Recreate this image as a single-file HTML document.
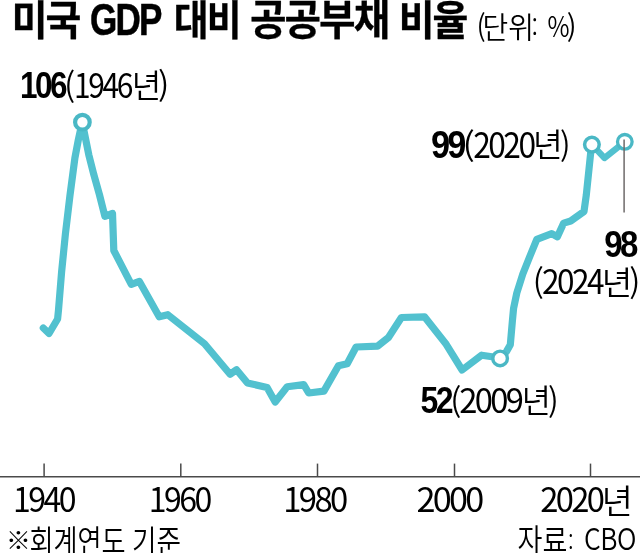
<!DOCTYPE html>
<html lang="ko">
<head>
<meta charset="utf-8">
<title>미국 GDP 대비 공공부채 비율</title>
<style>
html,body{margin:0;padding:0;background:#fff;}
body{width:640px;height:553px;overflow:hidden;}
svg{display:block;}
text{font-family:"Liberation Sans","Noto Sans CJK KR",sans-serif;font-size:100px;fill:#000;}
text.k{font-family:"Noto Sans CJK KR","Liberation Sans",sans-serif;}
text.s{stroke:#000;stroke-linejoin:round;vector-effect:non-scaling-stroke;}
</style>
</head>
<body>
<svg width="640" height="553" viewBox="0 0 640 553">
<rect width="640" height="553" fill="#fff"/>
<g stroke="#4a4a4a" stroke-width="1.5" fill="none">
<line x1="0" y1="476.75" x2="640" y2="476.75"/>
<line x1="44.1" y1="463.6" x2="44.1" y2="477"/>
<line x1="180.8" y1="463.6" x2="180.8" y2="477"/>
<line x1="317.5" y1="463.6" x2="317.5" y2="477"/>
<line x1="454.5" y1="463.6" x2="454.5" y2="477"/>
<line x1="590.5" y1="463.6" x2="590.5" y2="477"/>
</g>
<polyline fill="none" stroke="#52c1cf" stroke-width="7.2" stroke-linejoin="round" stroke-linecap="round" points="
43.3,328 49,333.5 57.6,319 58.5,310 61.6,272 65.4,234 69.9,196 74.9,158 78.3,140 81.8,124
83.6,129 88.8,154.8 93.8,174.6 99.4,194.5 104.9,216.3 112.5,213.5 113.8,250.5 131.3,284.4 139.4,281.4
159.2,316.8 167.8,314.7 204.5,343.8 230.1,374.2 236.5,369.7 247.5,383 267.1,387.4
275.2,402 287.2,386.7 303.7,384.6 308.7,393 323.9,391.1 338.4,365.7 347.2,363.8
356.1,347 377.6,346.1 388.3,337.7 401.4,317.5 424.5,316.8 446.2,344.3 462.1,370
481.7,355.2 492,356.7 500.1,358.4 506.4,351.6 510.3,344.8 512.3,322 513.6,308.2
516.8,293 522.8,274 530.4,255 536.8,239.3 551.7,233.6 557.4,236.8 563.7,223.1
570.7,221 584,211.5 586.3,195 591.5,145"/>
<polyline fill="none" stroke="#52c1cf" stroke-width="6.3" stroke-linejoin="round" stroke-linecap="round" points="591.9,144.6 604.5,158 624.8,141.8"/>
<g fill="#fff" stroke="#4ab8c5">
<circle cx="82.4" cy="122.2" r="7.3" stroke-width="4.2"/>
<circle cx="500.1" cy="358.4" r="7.3" stroke-width="3.4"/>
<circle cx="591.9" cy="144.6" r="7.3" stroke-width="3.5"/>
<circle cx="624.8" cy="141.8" r="7.3" stroke-width="3.3"/>
</g>
<line x1="624.1" y1="139.4" x2="624.1" y2="212.5" stroke="#6e6a6a" stroke-width="1.5"/>
<g><text class="s" transform="matrix(0.3894 0 0 0.4138 11.71 34.52)" font-weight="700" stroke-width="0.3" style="letter-spacing:-0.05em">미국</text> <text class="s" transform="matrix(0.3509 0 0 0.4503 89.94 34.52)" font-weight="700" stroke-width="0.5" style="letter-spacing:-0.05em">GDP</text> <text class="s" transform="matrix(0.3789 0 0 0.4138 173.78 34.52)" font-weight="700" stroke-width="0.3" style="letter-spacing:-0.05em">대비</text> <text class="s" transform="matrix(0.3976 0 0 0.4165 249.89 34.50)" font-weight="700" stroke-width="0.3" style="letter-spacing:-0.05em">공공부채</text> <text class="s" transform="matrix(0.3894 0 0 0.4138 398.64 34.52)" font-weight="700" stroke-width="0.3" style="letter-spacing:-0.05em">비율</text> <text class="k" transform="matrix(0.2766 0 0 0.2965 476.44 38.15)" font-weight="350">(</text><text class="k" transform="matrix(0.2793 0 0 0.2957 482.59 37.61)" font-weight="350">단위</text><text class="k" transform="matrix(0.2225 0 0 0.2554 531.87 37.45)" font-weight="350">:</text> <text class="k" transform="matrix(0.2412 0 0 0.2912 547.61 37.29)" font-weight="350">%</text><text class="k" transform="matrix(0.3014 0 0 0.2965 566.86 38.15)" font-weight="350">)</text></g>
<g><text transform="matrix(0.3146 0 0 0.3750 20.12 98.25)" font-weight="700" style="letter-spacing:-0.08em">106</text><text class="k" transform="matrix(0.3383 0 0 0.3315 63.96 98.77)" font-weight="350">(</text><text class="k" transform="matrix(0.2992 0 0 0.3454 74.05 98.03)" font-weight="400" style="letter-spacing:-0.08em">1946</text><text class="k" transform="matrix(0.3210 0 0 0.3354 131.66 98.43)" font-weight="350">년</text><text class="k" transform="matrix(0.3448 0 0 0.3293 157.95 98.25)" font-weight="350">)</text></g>
<g><text transform="matrix(0.3431 0 0 0.3857 430.95 158.00)" font-weight="700" style="letter-spacing:-0.08em">99</text><text class="k" transform="matrix(0.3830 0 0 0.3235 462.36 158.02)" font-weight="350">(</text><text class="k" transform="matrix(0.3173 0 0 0.3596 473.17 157.78)" font-weight="400" style="letter-spacing:-0.08em">2020</text><text class="k" transform="matrix(0.3231 0 0 0.3320 532.99 157.44)" font-weight="350">년</text><text class="k" transform="matrix(0.3205 0 0 0.3235 560.08 158.02)" font-weight="350">)</text></g>
<g><text transform="matrix(0.3304 0 0 0.3750 604.21 257.00)" font-weight="700" style="letter-spacing:-0.08em">98</text></g>
<g><text class="k" transform="matrix(0.3448 0 0 0.3268 532.60 295.01)" font-weight="350">(</text><text class="k" transform="matrix(0.3157 0 0 0.3345 541.94 294.28)" font-weight="400" style="letter-spacing:-0.08em">2024</text><text class="k" transform="matrix(0.3322 0 0 0.3320 601.70 294.93)" font-weight="350">년</text><text class="k" transform="matrix(0.3388 0 0 0.3285 629.22 294.92)" font-weight="350">)</text></g>
<g><text transform="matrix(0.3205 0 0 0.3607 420.46 413.25)" font-weight="700" style="letter-spacing:-0.08em">52</text><text class="k" transform="matrix(0.3449 0 0 0.3260 449.88 413.97)" font-weight="350">(</text><text class="k" transform="matrix(0.3274 0 0 0.3345 459.16 412.80)" font-weight="400" style="letter-spacing:-0.08em">2009</text><text class="k" transform="matrix(0.3164 0 0 0.3314 521.66 413.44)" font-weight="350">년</text><text class="k" transform="matrix(0.3262 0 0 0.3253 548.11 414.15)" font-weight="350">)</text></g>
<g><text class="k" transform="matrix(0.3207 0 0 0.3345 13.03 512.29)" font-weight="400" style="letter-spacing:-0.08em">1940</text></g>
<g><text class="k" transform="matrix(0.3208 0 0 0.3345 148.77 512.29)" font-weight="400" style="letter-spacing:-0.08em">1960</text></g>
<g><text class="k" transform="matrix(0.3284 0 0 0.3345 283.26 512.29)" font-weight="400" style="letter-spacing:-0.08em">1980</text></g>
<g><text class="k" transform="matrix(0.3423 0 0 0.3345 416.42 512.29)" font-weight="400" style="letter-spacing:-0.08em">2000</text></g>
<g><text class="k" transform="matrix(0.3273 0 0 0.3345 540.17 512.29)" font-weight="400" style="letter-spacing:-0.08em">2020</text><text class="k" transform="matrix(0.3378 0 0 0.3429 601.69 513.70)" font-weight="350">년</text></g>
<g><text class="k" transform="matrix(0.2482 0 0 0.2358 5.97 548.74)" font-weight="350">※</text><text class="k" transform="matrix(0.2617 0 0 0.3145 29.39 552.66)" font-weight="350">회계연도</text> <text class="k" transform="matrix(0.2664 0 0 0.3145 131.99 552.66)" font-weight="350">기준</text></g>
<g><text class="k" transform="matrix(0.2706 0 0 0.3232 517.58 552.48)" font-weight="350">자료</text><text class="k" transform="matrix(0.1894 0 0 0.2376 568.21 550.90)" font-weight="350">:</text> <text class="k" transform="matrix(0.2640 0 0 0.2985 584.12 550.04)" font-weight="350" style="letter-spacing:-0.02em">CBO</text></g>
</svg>
</body>
</html>
